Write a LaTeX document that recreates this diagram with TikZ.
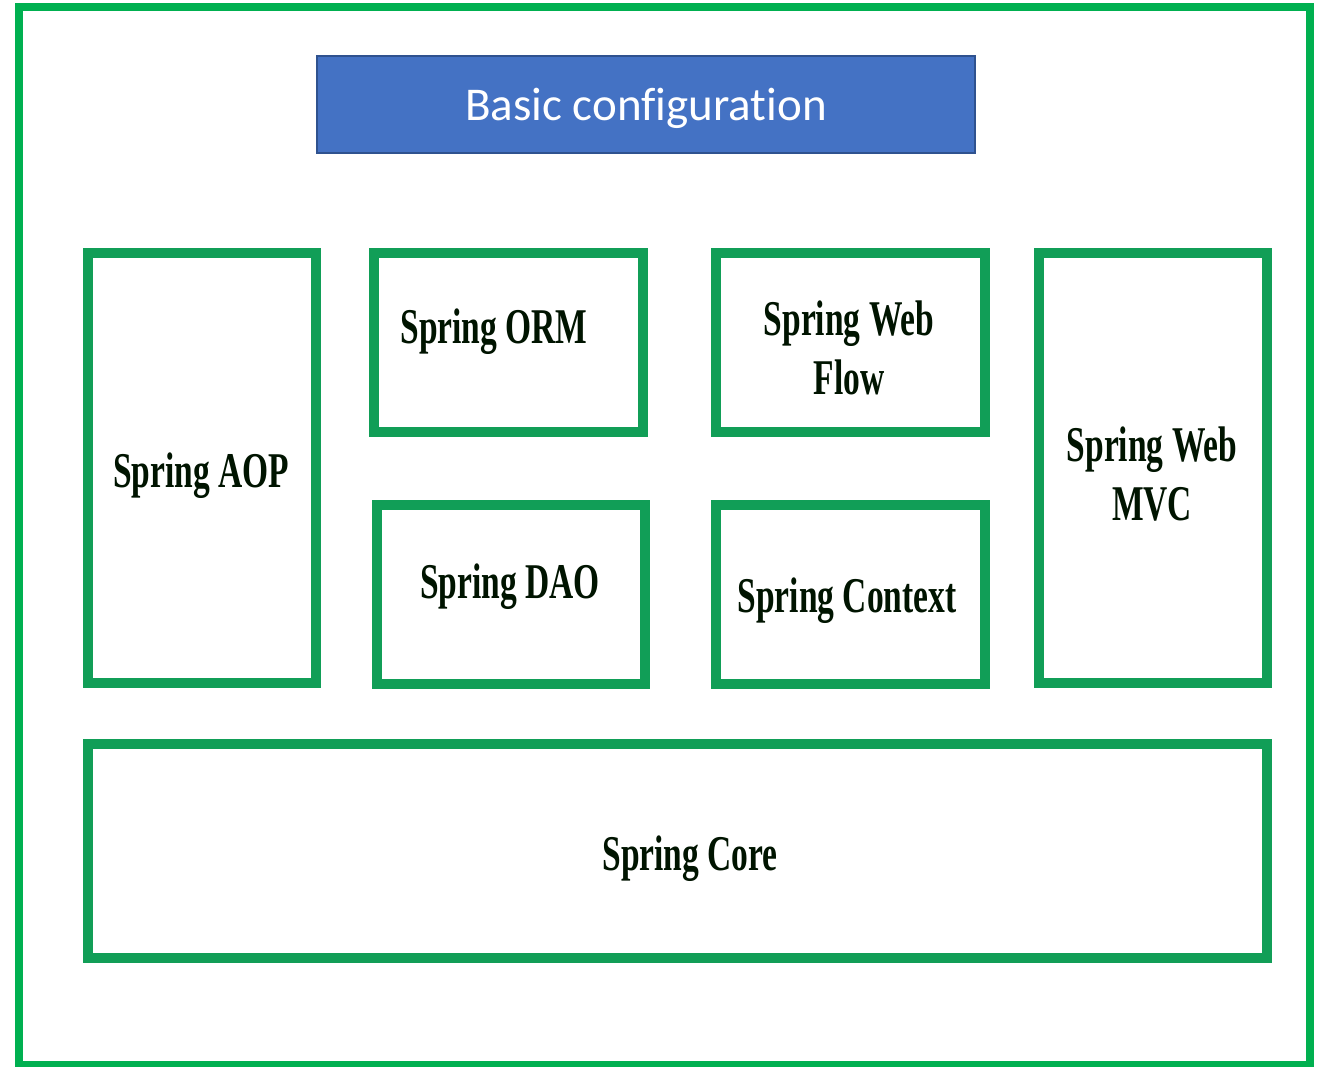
\documentclass[tikz,border=0pt]{standalone}
\usepackage{fontspec}
\newfontfamily\sprfont[FakeStretch=0.67]{Liberation Serif}
\newfontfamily\calfont[Ligatures=NoCommon]{Carlito}
\definecolor{frameg}{HTML}{00B050}
\definecolor{boxg}{HTML}{119E57}
\definecolor{bluef}{HTML}{4472C4}
\definecolor{blued}{HTML}{2F528F}
\begin{document}
\begin{tikzpicture}[x=1pt,y=-1pt,
  modbox/.style={draw=boxg,line width=10pt,fill=none},
  modtext/.style={inner sep=0pt,anchor=center,align=center,font=\sprfont\bfseries\fontsize{50}{59}\selectfont,text=black!92!green}]
\useasboundingbox (0,0) rectangle (1324,1066);
\fill[white] (0,0) rectangle (1324,1066);
\draw[frameg,line width=8pt] (19,7) rectangle (1310,1065);
% blue header
\node[draw=blued,fill=bluef,line width=1.5pt,minimum width=658pt,minimum height=97pt,inner sep=0pt,text=white,font=\calfont\fontsize{47}{56}\selectfont] (basic) at (646,104.5) {};
\node[inner sep=0pt,text=white,font=\calfont\fontsize{47}{56}\selectfont] (basictext) at (646,108.5) {Basic configuration};
% boxes
\draw[modbox] (88,253) rectangle (316,683);
\draw[modbox] (374,253) rectangle (643,432);
\draw[modbox] (716,253) rectangle (985,432);
\draw[modbox] (1039,253) rectangle (1267,683);
\draw[modbox] (377,505) rectangle (645,684);
\draw[modbox] (716,505) rectangle (985,684);
\draw[modbox] (88,744) rectangle (1267,958);
% labels
\node[modtext] (aop) at (201,476) {Spring AOP};
\node[modtext] (orm) at (494,332) {Spring ORM};
\node[modtext] (flow) at (849,348) {Spring Web\\Flow};
\node[modtext] (dao) at (510,587) {Spring DAO};
\node[modtext] (ctx) at (847,601) {Spring Context};
\node[modtext] (mvc) at (1152,474) {Spring Web\\MVC};
\node[modtext] (core) at (690,859) {Spring Core};
\end{tikzpicture}
\end{document}
